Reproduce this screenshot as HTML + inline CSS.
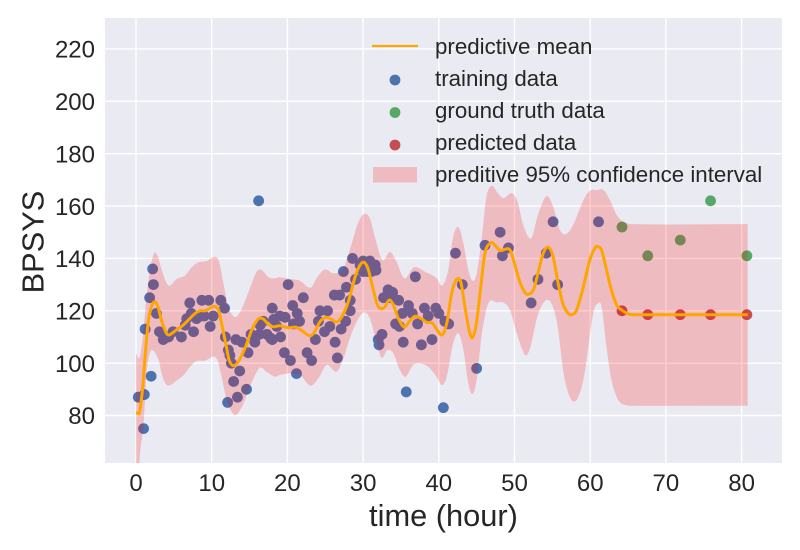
<!DOCTYPE html>
<html>
<head>
<meta charset="utf-8">
<title>Predictive chart</title>
<style>
html,body{margin:0;padding:0;background:#fff;}
svg{display:block;font-family:"Liberation Sans",sans-serif;}
text{fill:#262626;}
</style>
</head>
<body>
<svg id="chart" width="800" height="550" viewBox="0 0 800 550" xmlns="http://www.w3.org/2000/svg">
<defs><clipPath id="plot-clip"><rect x="105" y="18" width="677" height="445"></rect></clipPath></defs>
<rect x="105" y="18" width="677" height="445" fill="#EAEAF2"></rect>
<g id="grid"></g>
<g id="marks" clip-path="url(#plot-clip)"></g>
<g id="ticks"></g>
<text x="443.5" y="526" font-size="30.8" text-anchor="middle">time (hour)</text>
<text transform="translate(43.5,242) rotate(-90)" font-size="30.8" text-anchor="middle">BPSYS</text>
<g id="legend">
<line x1="372" y1="46" x2="418" y2="46" stroke="#FFA500" stroke-width="2.2"></line>
<text x="435" y="54" font-size="22.3">predictive mean</text>
<circle cx="395" cy="80" r="5.4" fill="#4C72B0"></circle>
<text x="435" y="86" font-size="22.3">training data</text>
<circle cx="395" cy="112.5" r="5.4" fill="#55A868"></circle>
<text x="435" y="118" font-size="22.3">ground truth data</text>
<circle cx="395" cy="145" r="5.4" fill="#C44E52"></circle>
<text x="435" y="150" font-size="22.3">predicted data</text>
<rect x="373" y="167" width="44" height="15.5" fill="#FF0000" fill-opacity="0.2"></rect>
<text x="435" y="182" font-size="22.3">preditive 95% confidence interval</text>
</g>
</svg>
<script>
const xTickLabels = [0,10,20,30,40,50,60,70,80];
const yTickLabels = [80,100,120,140,160,180,200,220];

const trainTimes = [0.3,1.0,1.1,1.2,1.8,2.0,2.2,2.3,2.7,3.1,3.6,4.3,4.9,6.0,6.5,6.7,7.1,7.3,7.6,8.0,8.5,8.7,9.0,9.6,9.8,10.2,11.2,11.7,11.8,12.1,12.2,12.4,12.6,12.9,13.2,13.4,13.7,14.0,14.6,14.8,15.2,15.7,16.2,16.3,16.4,16.8,17.3,17.8,18.0,18.0,18.2,18.6,19.0,19.1,19.6,19.7,20.1,20.4,20.7,20.8,21.2,21.3,21.6,22.1,22.6,23.2,23.7,24.1,24.3,24.9,25.3,25.6,26.2,26.3,26.6,26.9,27.1,27.4,27.7,27.8,28.3,28.3,28.6,29.0,29.6,30.0,30.0,30.5,30.9,31.1,31.6,31.7,32.0,32.1,32.5,32.7,33.3,33.6,33.9,34.3,34.7,34.8,35.2,35.3,35.7,36.0,36.5,36.9,37.2,37.7,38.1,38.6,39.1,39.6,40.0,40.6,40.8,41.3,42.2,43.1,45.0,46.1,48.1,48.4,49.2,52.2,53.1,54.2,55.1,55.7,61.1];
const trainValues = [87,75,88,113,125,95,136,130,119,112,109,110,112,110,114.5,117,123,119,112,117,118,124,118,124,114,118,124,121,110,85,105,103,100,93,109,87,97,108,90,104,111,108,162,111,114.5,116,111,109.5,121,109,116.7,114,118,110,104,117.5,130,101,122,115,96,119,116,125,104,101,109,116,120,112,120,114,126,108,102,126,113,135,116,129,120,124,140,132,137.5,139,135,135,139,135,137.5,135.5,109,107,111,125,128,125,127,115,124,114,119,108,89,122,119,133,115,107,121,118,109,121,119,83,116,115,142,130,98,145,150,141,144,123,132,142,154,130,154];

const futureTimes = [64.2,67.6,71.9,75.9,80.7];
const groundTruthValues = [152,141,147,162,141];
const predictedValues = [120,118.5,118.5,118.5,118.5];

const meanTimes = [0,0.2,0.45,0.85,1.2,1.65,2.1,2.5,2.9,3.4,4,4.4,5.2,6.25,7.1,7.8,8.45,9.1,9.8,10.35,10.9,11.3,11.85,12.3,12.85,13.5,14.4,15.3,16.15,16.8,17.5,18.15,19,20.1,21.2,22.1,23,23.6,24.3,25.05,25.85,26.5,27.2,28.05,28.95,29.6,30.15,30.7,31.35,31.9,32.45,32.9,33.45,34,34.65,35.45,36.2,36.85,37.75,38.4,39.15,39.7,40.45,41.05,41.7,42.35,42.9,43.45,44,44.4,44.9,45.45,46.1,46.9,47.4,48.1,48.75,49.4,50.05,50.7,51.4,51.8,52.5,53.1,53.8,54.45,55.1,55.8,56.45,57.1,57.55,58.2,59.1,59.95,60.7,61.05,61.5,62.15,62.8,63.5,64.15,65,65.7,80.8];
const meanValues = [81,81,81.2,89.7,102.5,116.5,122,123.5,121.5,116,111.5,110.8,112.4,114.6,117,119,120,120,121,121.7,120.3,115.2,107.6,101.2,99,100.5,105.7,112.7,116.9,116.9,114.8,113.9,114.3,113.5,113.7,112,110.4,112,115.8,117.5,116.7,115.7,117.7,123.5,133,137.5,138.5,135.6,128,122.2,120.8,121.6,124.1,122.2,117.1,113.8,116.2,117.9,116.9,115.6,115.3,113,110.8,115.2,126.7,132,131,121.6,112.7,109.7,114,126.7,142,146,145.1,143,143.5,143.2,137.5,131.1,126.9,126.3,128,134.3,142,144.3,140.7,129.9,122.2,119,118.5,120.3,129.2,139.4,144.3,144.5,143.2,135.6,128,122.2,120.3,118.8,118.5,118.5];

const upperTimes = [0,0.45,0.85,1.4,1.85,2.4,2.85,3.4,4.05,4.5,5.35,6.45,7.35,8.25,9.35,10.2,10.9,11.55,12.2,13.1,14,15.05,15.95,16.6,17.5,18.35,19,20.35,21.65,23.05,23.85,24.95,26.05,26.95,27.6,28.5,29.4,30.15,30.9,31.55,32.55,33.55,34.4,35.45,36.7,38.2,39.7,40.45,41.25,41.9,42.6,43.25,43.9,44.5,45,45.7,46.3,47,47.65,48.5,49.65,50.4,51.15,52.2,53.15,54.25,55.1,56,56.8,57.75,59.1,60,60.85,61.75,62.6,63.5,64.4,65.5,80.8];
const upperValues = [103.8,102,108.8,125.4,135.6,142,141,135.6,130.5,129.6,132.1,133.4,136.6,138.5,139,140.5,139.4,130.5,121.6,117.6,121,128.6,135,135.6,132.8,132.4,132.8,132.1,131.5,128.8,132.4,135.8,134.3,134.9,137.5,145.8,154,157,155.3,148.3,139.4,142.5,138.8,132.4,136.6,134.9,132.5,129.6,135.6,148.3,151.9,145.8,135.6,131.4,134.3,148.3,163.6,167.7,165.5,163,164.9,161.7,152.8,147.7,157.2,163.8,159.8,150.9,149.3,152.8,162.3,165.9,166.1,166.1,162.3,156.6,154,153.1,153.1];

const lowerTimes = [0,0.5,1,1.4,1.85,2.4,3,3.4,3.85,4.35,5.35,6.45,7.1,8,9.1,10.2,10.75,11.3,12,13,14,14.85,15.75,16.4,17.25,18.35,19,20.35,21.65,23.05,24.1,25.2,26.5,27.4,28.3,29.4,30.15,30.9,31.7,32.45,33.2,34,34.85,35.6,36.6,37.5,38.6,39.7,40.4,41.05,41.9,42.6,43.25,43.9,44.45,45,45.7,46.55,47.65,48.5,49.4,50.3,51.4,52.05,53.15,54.45,55.55,56.65,57.85,59.1,60.4,61.05,61.5,62.15,62.8,63.7,64.6,65.7,80.8];
const lowerValues = [40,64,77,96,104,104.4,101,96,92.4,91.4,93.3,95.9,98.5,100.8,100.9,102.5,101.2,94.8,85.9,80.2,83.4,89.7,95.5,98.3,96.7,94.8,95.5,96.1,95.5,91.4,94.2,99.3,96.7,101.8,110,117.1,119.4,117.1,108.8,102,105,103.7,97.4,94.8,99.3,99.9,98.6,94.8,91.6,94.8,107.6,111.4,105,92.3,88.2,93.6,111.4,122.9,123.2,123.2,120.3,111.4,103.1,105.7,119,124.1,116.5,93.6,85.3,93.6,119,122.9,121.5,106.3,93.6,85.9,84,83.7,83.7];

const NS = 'http://www.w3.org/2000/svg';
function xScale(t){ return 136 + 7.57 * t; }
function yScale(v){ return 415.5 - 2.618 * (v - 80); }

function make(tag, attrs, parent){
  const el = document.createElementNS(NS, tag);
  for (const k in attrs) el.setAttribute(k, attrs[k]);
  parent.appendChild(el);
  return el;
}

function smoothSegments(ts, vs){
  const n = Math.min(ts.length, vs.length);
  const slope = [];
  for (let i = 0; i < n; i++){
    const a = Math.max(i - 1, 0), b = Math.min(i + 1, n - 1);
    slope.push((yScale(vs[b]) - yScale(vs[a])) / (xScale(ts[b]) - xScale(ts[a])));
  }
  let d = '';
  for (let i = 0; i < n - 1; i++){
    const x0 = xScale(ts[i]), x1 = xScale(ts[i + 1]);
    const y0 = yScale(vs[i]), y1 = yScale(vs[i + 1]);
    const h = (x1 - x0) / 3;
    d += 'C' + (x0 + h).toFixed(2) + ' ' + (y0 + slope[i] * h).toFixed(2) + ' ' + (x1 - h).toFixed(2) + ' ' + (y1 - slope[i + 1] * h).toFixed(2) + ' ' + x1.toFixed(2) + ' ' + y1.toFixed(2);
  }
  return d;
}

const grid = document.getElementById('grid');
const ticks = document.getElementById('ticks');
const marks = document.getElementById('marks');

xTickLabels.forEach(function(t){
  const line = make('line', {x1: xScale(t), x2: xScale(t), y1: 18, y2: 463, stroke: '#fff', 'stroke-width': 1.4}, grid);
  
  
  const label = make('text', {x: xScale(t), y: 491, 'font-size': 24, 'text-anchor': 'middle'}, ticks);
  label.textContent = String(t);
  
  
});
yTickLabels.forEach(function(v){
  const line = make('line', {x1: 105, x2: 782, y1: yScale(v), y2: yScale(v), stroke: '#fff', 'stroke-width': 1.4}, grid);
  
  
  const label = make('text', {x: 95, y: yScale(v) + 8.7, 'font-size': 24, 'text-anchor': 'end'}, ticks);
  label.textContent = String(v);
  
  
});

trainTimes.forEach(function(t, i){
  const c = make('circle', {cx: xScale(t), cy: yScale(trainValues[i]), r: 5.4, fill: '#4C72B0'}, marks);
  
  
});
futureTimes.forEach(function(t, i){
  const c = make('circle', {cx: xScale(t), cy: yScale(groundTruthValues[i]), r: 5.4, fill: '#55A868'}, marks);
  
  
});
futureTimes.forEach(function(t, i){
  const c = make('circle', {cx: xScale(t), cy: yScale(predictedValues[i]), r: 5.4, fill: '#C44E52'}, marks);
  
  
});

const revT = lowerTimes.slice().reverse();
const revV = lowerValues.slice().reverse();
const bandPath = 'M' + xScale(upperTimes[0]).toFixed(2) + ' ' + yScale(upperValues[0]).toFixed(2) +
  smoothSegments(upperTimes, upperValues) +
  'L' + xScale(revT[0]).toFixed(2) + ' ' + yScale(revV[0]).toFixed(2) +
  smoothSegments(revT, revV) + 'Z';
const band = make('path', {d: bandPath, fill: '#FF0000', 'fill-opacity': 0.2}, marks);



const meanPath = 'M' + xScale(meanTimes[0]).toFixed(2) + ' ' + yScale(meanValues[0]).toFixed(2) + smoothSegments(meanTimes, meanValues);
const meanLine = make('path', {d: meanPath, fill: 'none', stroke: '#FFA500', 'stroke-width': 3, 'stroke-linejoin': 'round'}, marks);


</script>
</body>
</html>
